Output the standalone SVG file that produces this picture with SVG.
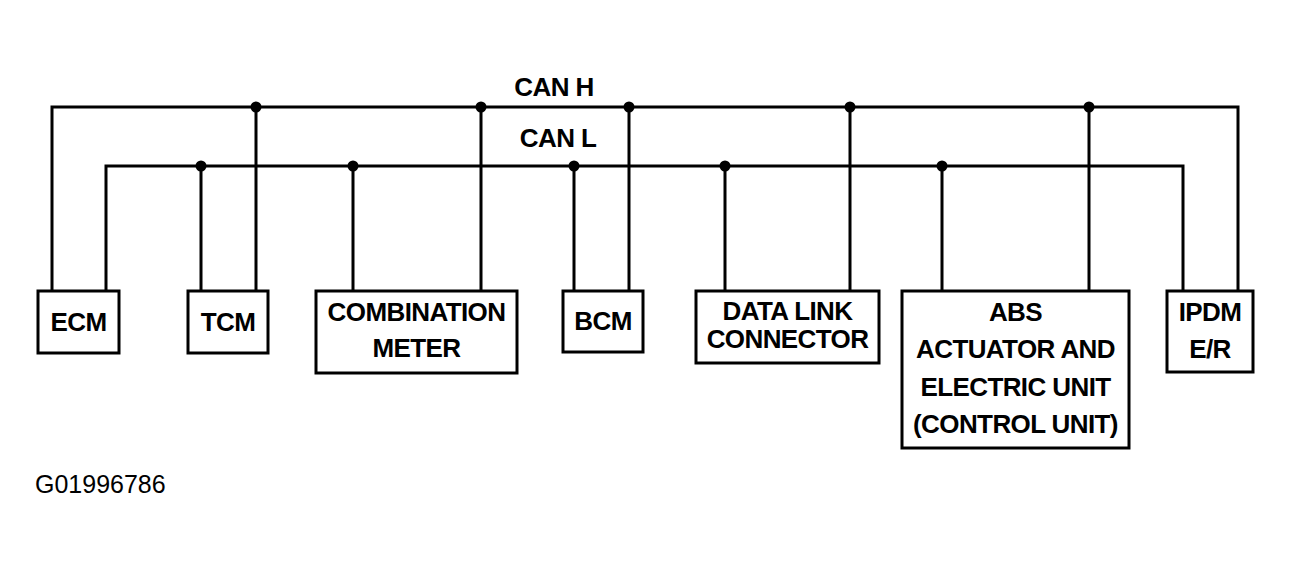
<svg xmlns="http://www.w3.org/2000/svg" width="1292" height="568" viewBox="0 0 1292 568">
<style>
.box{fill:#fff;stroke:#000;stroke-width:3}
.w{fill:none;stroke:#000;stroke-width:3}
.t{font-family:"Liberation Sans",Arial,sans-serif;font-weight:bold;font-size:26px;fill:#000;text-anchor:middle;letter-spacing:-0.6px}
.id{font-family:"Liberation Sans",Arial,sans-serif;font-size:25px;fill:#000}
</style>
<rect width="1292" height="568" fill="#fff"/>
<g id="connectors">
<path class="w" d="M52,291 V107 H1238 V291"/>
<path class="w" d="M106,291 V166 H1183 V291"/>
<path class="w" d="M201,166 V291 M256,107 V291 M353,166 V291 M481,107 V291 M574,166 V291 M629,107 V291 M725,166 V291 M850,107 V291 M942,166 V291 M1089,107 V291"/>
<g fill="#000">
<circle cx="256" cy="107" r="5.5"/><circle cx="481" cy="107" r="5.5"/><circle cx="629" cy="107" r="5.5"/><circle cx="850" cy="107" r="5.5"/><circle cx="1089" cy="107" r="5.5"/>
<circle cx="201" cy="166" r="5.5"/><circle cx="353" cy="166" r="5.5"/><circle cx="574" cy="166" r="5.5"/><circle cx="725" cy="166" r="5.5"/><circle cx="942" cy="166" r="5.5"/>
</g>
<text class="t" x="554" y="96">CAN H</text>
<text class="t" x="558" y="147">CAN L</text>
</g>
<g id="ecm"><rect class="box" x="38" y="291" width="81" height="62"/><text class="t" x="78.5" y="331">ECM</text></g>
<g id="tcm"><rect class="box" x="188" y="291" width="80" height="62"/><text class="t" x="228" y="331">TCM</text></g>
<g id="combination-meter"><rect class="box" x="316" y="291" width="201" height="82"/><text class="t" x="416.5" y="321">COMBINATION</text><text class="t" x="416.5" y="357">METER</text></g>
<g id="bcm"><rect class="box" x="563" y="291" width="80" height="61"/><text class="t" x="603" y="330">BCM</text></g>
<g id="data-link-connector"><rect class="box" x="696" y="291" width="183" height="72"/><text class="t" x="787.5" y="320">DATA LINK</text><text class="t" x="787.5" y="348">CONNECTOR</text></g>
<g id="abs"><rect class="box" x="902" y="291" width="227" height="157"/><text class="t" x="1015.5" y="321">ABS</text><text class="t" x="1015.5" y="358">ACTUATOR AND</text><text class="t" x="1015.5" y="396">ELECTRIC UNIT</text><text class="t" x="1015.5" y="433">(CONTROL UNIT)</text></g>
<g id="ipdm"><rect class="box" x="1167" y="291" width="86" height="81"/><text class="t" x="1210" y="321">IPDM</text><text class="t" x="1210" y="358">E/R</text></g>
<text class="id" x="35" y="493">G01996786</text>
</svg>
